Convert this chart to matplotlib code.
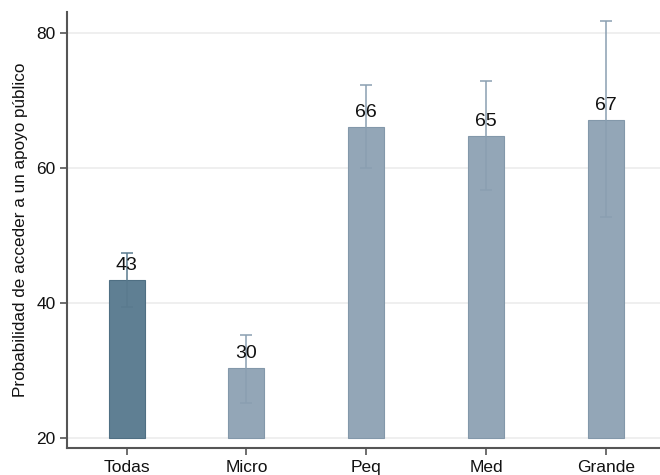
import matplotlib
matplotlib.use("Agg")
import matplotlib.pyplot as plt

categories = ["Todas", "Micro", "Peq", "Med", "Grande"]
values = [43.4, 30.3, 66.1, 64.8, 67.1]
ci_low = [39.4, 25.2, 60.1, 56.8, 52.8]
ci_high = [47.4, 35.3, 72.4, 73.0, 81.8]
labels = ["43", "30", "66", "65", "67"]
yticks = [20, 40, 60, 80]

plt.rcParams['font.family'] = ['Liberation Sans', 'DejaVu Sans']

fig = plt.figure(figsize=(6.6, 4.75), dpi=100)
ax = fig.add_axes([0.101, 0.056, 0.899, 0.919])

base = 20
x = list(range(len(categories)))
colors = ["#5f7f93"] + ["#93a6b7"] * (len(categories) - 1)
edges = ["#4f6f83"] + ["#8398aa"] * (len(categories) - 1)
heights = [v - base for v in values]
ax.bar(x, heights, bottom=base, width=0.3, color=colors, edgecolor=edges,
       linewidth=0.8, zorder=2)
yerr = [[v - l for v, l in zip(values, ci_low)], [h - v for v, h in zip(values, ci_high)]]
ecolors = ["#5a7a8e"] + ["#8a9fb1"] * (len(categories) - 1)
for i in x:
    ax.errorbar(x[i], values[i], yerr=[[yerr[0][i]], [yerr[1][i]]], fmt='none',
                ecolor=ecolors[i], elinewidth=1.1, capsize=4, capthick=1.1, zorder=3)
for i in x:
    ax.annotate(labels[i], (x[i], values[i]), xytext=(0, 4.5), textcoords='offset points',
                ha='center', va='bottom', fontsize=14, color='#111111', zorder=4)

ax.set_xlim(-0.5, 4.45)
ax.set_ylim(18.43, 83.2)
ax.set_yticks(yticks)
ax.set_xticks(x)
ax.set_xticklabels(categories)
ax.grid(axis='y', color='#ececec', linewidth=1.2, zorder=0)
ax.set_axisbelow(True)
for s in ['top', 'right']:
    ax.spines[s].set_visible(False)
for s in ['left', 'bottom']:
    ax.spines[s].set_color('#555555')
    ax.spines[s].set_linewidth(1.5)
ax.tick_params(axis='both', direction='out', length=5, width=1.2, color='#555555',
               labelsize=12.5, labelcolor='#111111', pad=3)
ax.set_ylabel("Probabilidad de acceder a un apoyo público", fontsize=12.3,
              color='#111111', labelpad=6)

fig.savefig("out.png", dpi=100)
